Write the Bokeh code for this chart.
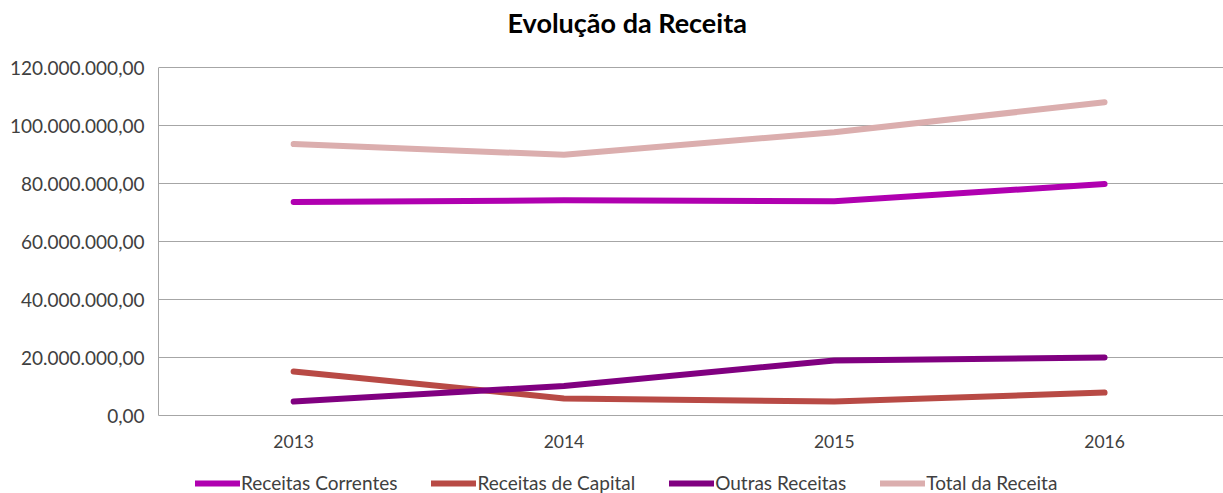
from bokeh.plotting import figure
from bokeh.models import Range1d, FixedTicker, CustomJSTickFormatter, Legend, LegendItem
from bokeh.embed import file_html
from bokeh.resources import INLINE

years = [2013, 2014, 2015, 2016]
receitas_correntes = [73.6e6, 74.2e6, 73.9e6, 79.8e6]
receitas_capital = [15.2e6, 5.9e6, 4.8e6, 7.9e6]
outras_receitas = [4.8e6, 10.2e6, 19.0e6, 20.0e6]
total_receita = [93.6e6, 89.9e6, 97.7e6, 108.0e6]
y_ticks = [0, 20e6, 40e6, 60e6, 80e6, 100e6, 120e6]

series_names = ["Receitas Correntes", "Receitas de Capital", "Outras Receitas", "Total da Receita"]
series_values = [receitas_correntes, receitas_capital, outras_receitas, total_receita]
series_colors = ["#B000B0", "#B84A45", "#800080", "#DBAEAE"]

FONT = "Lato"
TXT = "#404040"
GRID = "#A6A6A6"

W, H = 1223, 493
LEFT, FRAME_TOP, TOP_Y, ZERO_Y = 158, 41, 67, 415
per_px = 120e6 / (ZERO_Y - TOP_Y)
y_lo = -(H - ZERO_Y) * per_px
y_hi = 120e6 + (TOP_Y - FRAME_TOP) * per_px

p = figure(width=W, height=H, output_backend="svg", toolbar_location=None,
           x_range=Range1d(2012.5, 2012.5 + (W - LEFT) / 270.3), y_range=Range1d(y_lo, y_hi),
           min_border_left=LEFT, min_border_right=0, min_border_top=FRAME_TOP, min_border_bottom=0,
           title="Evolução da Receita")
p.outline_line_color = None
p.background_fill_color = "white"
p.border_fill_color = "white"

p.title.text_font = FONT
p.title.text_font_size = "27px"
p.title.text_font_style = "bold"
p.title.text_color = "#000000"
p.title.align = "left"
p.title.offset = 349
p.title.standoff = 6

renderers = []
for name, vals, col in zip(series_names, series_values, series_colors):
    r = p.line(years, vals, line_color=col, line_width=6, line_cap="round", line_join="round")
    renderers.append((name, r))

p.xaxis.ticker = FixedTicker(ticks=years)
p.xaxis.fixed_location = 0
p.xaxis.major_tick_line_color = None
p.xaxis.minor_tick_line_color = None
p.xaxis.axis_line_color = GRID
p.xaxis.major_label_text_font = FONT
p.xaxis.major_label_text_font_size = "17.5px"
p.xaxis.major_label_text_color = TXT
p.xaxis.major_label_standoff = 13

p.yaxis.ticker = FixedTicker(ticks=y_ticks)
p.yaxis.bounds = (0, 120e6)
p.yaxis.formatter = CustomJSTickFormatter(code="""
const s = Math.round(tick).toString().replace(/\\B(?=(\\d{3})+(?!\\d))/g, ".");
return s + ",00";
""")
p.yaxis.major_tick_line_color = None
p.yaxis.minor_tick_line_color = None
p.yaxis.axis_line_color = GRID
p.yaxis.major_label_text_font = FONT
p.yaxis.major_label_text_font_size = "19px"
p.yaxis.major_label_text_color = TXT
p.yaxis.major_label_standoff = 8

p.xgrid.grid_line_color = None
p.ygrid.grid_line_color = GRID
p.ygrid.grid_line_width = 1

legend = Legend(items=[LegendItem(label=n, renderers=[r]) for n, r in renderers],
                orientation="horizontal", location=(37, -1))
legend.glyph_width = 45
legend.glyph_height = 20
legend.label_height = 20
legend.label_standoff = 1
legend.spacing = 34
legend.padding = 0
legend.margin = 0
legend.border_line_color = None
legend.background_fill_alpha = 0
legend.label_text_font = FONT
legend.label_text_font_size = "19px"
legend.label_text_color = TXT
p.add_layout(legend, "center")

open("out.html", "w").write(file_html(p, INLINE))
